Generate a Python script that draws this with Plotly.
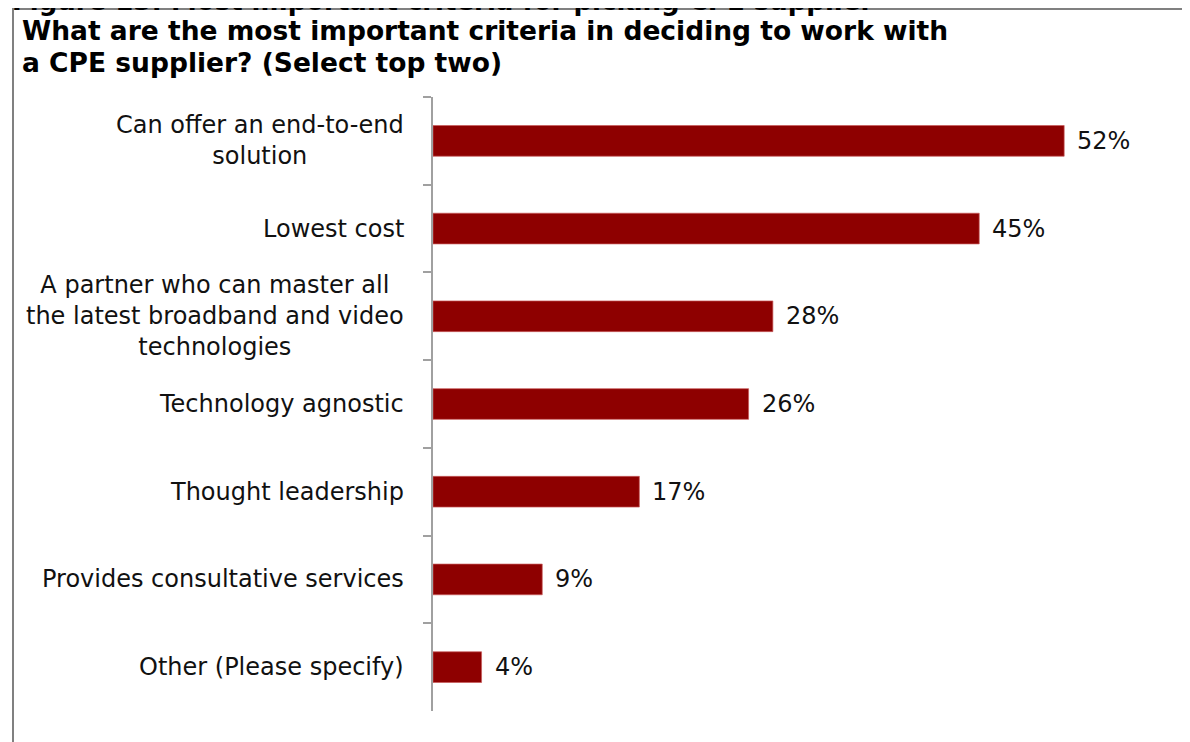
import plotly.graph_objects as go

categories = [
    "Can offer an end-to-end<br>solution",
    "Lowest cost",
    "A partner who can master all<br>the latest broadband and video<br>technologies",
    "Technology agnostic",
    "Thought leadership",
    "Provides consultative services",
    "Other (Please specify)",
]
values = [52, 45, 28, 26, 17, 9, 4]
labels = [f"{v}%" for v in values]

title_lines = [
    "What are the most important criteria in deciding to work with",
    "a CPE supplier? (Select top two)",
]
caption_text = "Figure 13: Most important criteria for picking CPE supplier"

# page has an 8px body margin; figure is drawn from (8, 8)
W, H = 1182, 734
L, R, T, B = 425, 53, 89, 31
PW, PH = W - L - R, H - T - B

def px_x(px):
    return (px - L) / PW

def px_y(py):
    return 1 - (py - T) / PH

FONT = "DejaVu Sans"

fig = go.Figure()
fig.add_trace(go.Bar(
    x=values, y=categories, orientation="h",
    marker=dict(color="#8E0000", line=dict(color="rgba(200,90,90,0.7)", width=1)),
    width=0.35,
    hoverinfo="skip",
))

annotations = []
# category labels (centre-aligned multi-line, right edge left of axis)
for cat in categories:
    annotations.append(dict(
        text=cat, xref="paper", yref="y", x=0, y=cat,
        xanchor="right", yanchor="middle", align="center", xshift=-27,
        showarrow=False, font=dict(family=FONT, size=24, color="#111111"),
    ))
# value labels
for cat, v, lab in zip(categories, values, labels):
    annotations.append(dict(
        text=lab, xref="x", yref="y", x=v, y=cat,
        xanchor="left", yanchor="middle", xshift=11,
        showarrow=False, font=dict(family=FONT, size=24, color="#111111"),
    ))
# title lines
for i, line in enumerate(title_lines):
    annotations.append(dict(
        text=line, xref="paper", yref="paper",
        x=px_x(12), y=px_y(23 + 32 * i), xanchor="left", yanchor="middle",
        showarrow=False,
        font=dict(family=FONT, size=26.5, color="#000000", weight="bold"),
    ))
# cut-off caption at the very top
annotations.append(dict(
    text=caption_text, xref="paper", yref="paper",
    x=px_x(2), y=px_y(10), xanchor="left", yanchor="bottom",
    showarrow=False,
    font=dict(family=FONT, size=26, color="#000000", weight="bold"),
))

fig.update_layout(
    width=W, height=H,
    margin=dict(l=L, r=R, t=T, b=B),
    paper_bgcolor="white", plot_bgcolor="white",
    showlegend=False,
    font=dict(family=FONT, color="#111111"),
    xaxis=dict(range=[0, 58], visible=False, fixedrange=True),
    yaxis=dict(
        autorange="reversed",
        showline=True, linecolor="#a0a0a0", linewidth=2,
        ticks="outside", tickson="boundaries", ticklen=8, tickcolor="#a0a0a0", tickwidth=2,
        showticklabels=False,
        showgrid=False, zeroline=False, fixedrange=True,
    ),
    shapes=[
        dict(type="rect", xref="paper", yref="paper",
             x0=px_x(5), x1=px_x(1260), y0=px_y(800), y1=px_y(1),
             line=dict(color="#808080", width=2), fillcolor="rgba(0,0,0,0)", layer="above"),
    ],
    annotations=annotations,
)

fig.write_html("out.html")
